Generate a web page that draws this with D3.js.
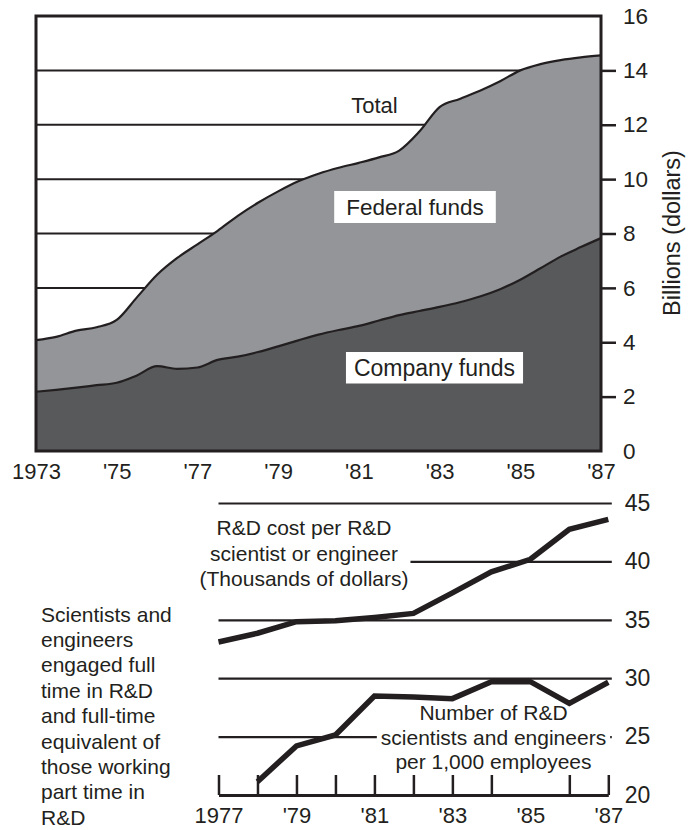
<!DOCTYPE html>
<html>
<head>
<meta charset="utf-8">
<script src="https://cdn.jsdelivr.net/npm/d3@7"></script>
<style>
  body { margin: 0; background: #fff; }
  text { font-family: "Liberation Sans", Arial, Helvetica, sans-serif; fill: #231f20; }
</style>
</head>
<body>
<svg id="chart" width="695" height="830"></svg>
<script>
// ---- Funding panel: R&D spending by source, billions of dollars (semiannual readings)
const fundYears = [1973, 1973.5, 1974, 1974.5, 1975, 1975.5, 1976, 1976.5, 1977, 1977.5,
  1978, 1978.5, 1979, 1979.5, 1980, 1980.5, 1981, 1981.5, 1982, 1982.5,
  1983, 1983.5, 1984, 1984.5, 1985, 1985.5, 1986, 1986.5, 1987];
const totalFunds = [4.08, 4.2, 4.43, 4.55, 4.82, 5.65, 6.48, 7.1, 7.6, 8.1,
  8.65, 9.13, 9.55, 9.92, 10.2, 10.42, 10.6, 10.8, 11.05, 11.75,
  12.65, 12.95, 13.25, 13.6, 14.0, 14.23, 14.38, 14.48, 14.55];
const companyFunds = [2.18, 2.25, 2.33, 2.42, 2.51, 2.78, 3.12, 3.02, 3.07, 3.35,
  3.47, 3.64, 3.85, 4.07, 4.28, 4.45, 4.6, 4.8, 5.0, 5.15,
  5.3, 5.47, 5.68, 5.95, 6.3, 6.72, 7.15, 7.5, 7.83];
const fundTicks = [0, 2, 4, 6, 8, 10, 12, 14, 16];
const fundGrid = [2, 4, 6, 8, 10, 12, 14];
const fundYearLabels = [1973, 1975, 1977, 1979, 1981, 1983, 1985, 1987];

// ---- Personnel panel
const staffYears = [1977, 1978, 1979, 1980, 1981, 1982, 1983, 1984, 1985, 1986, 1987];
const costPerScientist = [33.1, 33.85, 34.84, 34.92, 35.2, 35.55, 37.3, 39.1, 40.18, 42.75, 43.6];
const densityYears = [1978, 1979, 1980, 1981, 1982, 1983, 1984, 1985, 1986, 1987];
const scientistsPer1000 = [21.14, 24.2, 25.14, 28.48, 28.4, 28.25, 29.7, 29.7, 27.85, 29.65];
const staffTicks = [20, 25, 30, 35, 40, 45];
const staffGrid = [25, 30, 35, 40, 45];
const staffTickMarks = [1977, 1978, 1979, 1980, 1981, 1982, 1983, 1984, 1986, 1987];
const staffYearLabels = [1977, 1979, 1981, 1983, 1985, 1987];

const sideNote = ["Scientists and", "engineers", "engaged full", "time in R&D",
  "and full-time", "equivalent of", "those working", "part time in", "R&D"];
const costNote = ["R&D cost per R&D", "scientist or engineer", "(Thousands of dollars)"];
const densityNote = ["Number of R&D", "scientists and engineers", "per 1,000 employees"];

const INK = "#231f20";
const svg = d3.select("#chart");
const yearFmt = (first) => d => d === first ? String(d) : "'" + String(d).slice(2);

// ================= Funding panel =================
const fx = d3.scaleLinear().domain([1973, 1987]).range([36, 601]);
const fy = d3.scaleLinear().domain([0, 16]).range([451, 16]);
const fund = fundYears.map((y, i) => ({ year: y, total: totalFunds[i], company: companyFunds[i] }));

const fundPanel = svg.append("g");

// horizontal rules
fundPanel.selectAll("line.grid").data(fundGrid).join("line")
  .attr("x1", fx(1973)).attr("x2", fx(1987))
  .attr("y1", d => fy(d)).attr("y2", d => fy(d))
  .attr("stroke", INK).attr("stroke-width", 2);

const curve = d3.curveMonotoneX;
fundPanel.append("path").datum(fund)
  .attr("fill", "#939598")
  .attr("d", d3.area().curve(curve).x(d => fx(d.year)).y0(fy(0)).y1(d => fy(d.total)));
fundPanel.append("path").datum(fund)
  .attr("fill", "#58595b")
  .attr("d", d3.area().curve(curve).x(d => fx(d.year)).y0(fy(0)).y1(d => fy(d.company)));
fundPanel.append("path").datum(fund)
  .attr("fill", "none").attr("stroke", INK).attr("stroke-width", 2.2)
  .attr("d", d3.line().curve(curve).x(d => fx(d.year)).y(d => fy(d.total)));
fundPanel.append("path").datum(fund)
  .attr("fill", "none").attr("stroke", INK).attr("stroke-width", 2.2)
  .attr("d", d3.line().curve(curve).x(d => fx(d.year)).y(d => fy(d.company)));

// frame
fundPanel.append("rect")
  .attr("x", fx(1973)).attr("y", fy(16))
  .attr("width", fx(1987) - fx(1973)).attr("height", fy(0) - fy(16))
  .attr("fill", "none").attr("stroke", INK).attr("stroke-width", 3);

// right value axis
const fAxis = fundPanel.append("g").attr("transform", `translate(${fx(1987)},0)`)
  .call(d3.axisRight(fy).tickValues(fundTicks).tickSize(15).tickPadding(7).tickFormat(d3.format("d")));
fAxis.select(".domain").remove();
fAxis.selectAll("line").attr("stroke", INK).attr("stroke-width", 2.5);
fAxis.selectAll(".tick").filter(d => d === 0 || d === 16).select("line").remove();
fAxis.selectAll("text").attr("font-size", 22.5).attr("fill", INK);

// year labels
const fxAxis = fundPanel.append("g").attr("transform", `translate(0,${fy(0) + 12})`)
  .call(d3.axisBottom(fx).tickValues(fundYearLabels).tickSize(0).tickPadding(0).tickFormat(yearFmt(1973)));
fxAxis.select(".domain").remove();
fxAxis.selectAll("text").attr("font-size", 22).attr("fill", INK).attr("dy", "0.72em");

fundPanel.append("text")
  .attr("transform", `translate(679.5,233) rotate(-90)`)
  .attr("text-anchor", "middle").attr("font-size", 23.5)
  .text("Billions (dollars)");

// in-chart labels
fundPanel.append("text").attr("x", 374.5).attr("y", 112.5).attr("text-anchor", "middle")
  .attr("font-size", 22).text("Total");

function boxedLabel(g, cx, baseline, txt, size, padX, boxTop, boxBottom) {
  const t = g.append("text").attr("x", cx).attr("y", baseline).attr("text-anchor", "middle")
    .attr("font-size", size).text(txt);
  const w = t.node().getComputedTextLength();
  g.insert("rect", () => t.node())
    .attr("x", cx - w / 2 - padX).attr("y", boxTop)
    .attr("width", w + 2 * padX).attr("height", boxBottom - boxTop)
    .attr("fill", "#fff");
}
boxedLabel(fundPanel, 415, 215, "Federal funds", 22.5, 12, 191, 223);
boxedLabel(fundPanel, 434.5, 376, "Company funds", 23, 8, 352, 383.5);

// ================= Personnel panel =================
const sx = d3.scaleLinear().domain([1977, 1987]).range([218.5, 608.3]);
const sy = d3.scaleLinear().domain([20, 45]).range([795, 503]);
const staffPanel = svg.append("g");

// horizontal rules, running a little past the last year
const gridAxis = staffPanel.append("g").attr("transform", `translate(${sx(1987) + 3.5},0)`)
  .call(d3.axisRight(sy).tickValues(staffGrid).tickSize(-(sx(1987) + 3.5 - sx(1977))).tickFormat(""));
gridAxis.select(".domain").remove();
gridAxis.selectAll("line").attr("stroke", INK).attr("stroke-width", 2.2);

// value labels
const sAxis = staffPanel.append("g").attr("transform", `translate(${sx(1987) + 3.5},0)`)
  .call(d3.axisRight(sy).tickValues(staffTicks).tickSize(0).tickPadding(13).tickFormat(d3.format("d")));
sAxis.select(".domain").remove();
sAxis.selectAll("text").attr("font-size", 23).attr("fill", INK);

// label panels on white
function noteBlock(g, cx, firstBaseline, step, lines, size, pad) {
  const grp = g.append("g");
  lines.forEach((s, i) => grp.append("text").attr("x", cx).attr("y", firstBaseline + i * step)
    .attr("text-anchor", "middle").attr("font-size", size).text(s));
  const bb = grp.node().getBBox();
  grp.insert("rect", ":first-child")
    .attr("x", bb.x - pad[0]).attr("y", bb.y - pad[1])
    .attr("width", bb.width + 2 * pad[0]).attr("height", bb.height + 2 * pad[1])
    .attr("fill", "#fff");
  return grp;
}
noteBlock(staffPanel, 304, 535, 25.5, costNote, 21, [2, 3]);
noteBlock(staffPanel, 493.5, 720, 24.5, densityNote, 21, [4, 1]);

// bottom axis with upward ticks
const sxTicks = staffPanel.append("g").attr("transform", `translate(0,${sy(20)})`)
  .call(d3.axisBottom(sx).tickValues(staffTickMarks).tickSizeInner(-20).tickSizeOuter(0).tickFormat(""));
sxTicks.select(".domain").attr("stroke", INK).attr("stroke-width", 3);
sxTicks.selectAll("line").attr("stroke", INK).attr("stroke-width", 2.5);

const sxLabels = staffPanel.append("g").attr("transform", `translate(0,${sy(20) + 12})`)
  .call(d3.axisBottom(sx).tickValues(staffYearLabels).tickSize(0).tickPadding(0).tickFormat(yearFmt(1977)));
sxLabels.select(".domain").remove();
sxLabels.selectAll("text").attr("font-size", 22).attr("fill", INK).attr("dy", "0.72em");

// series lines
staffPanel.append("path").datum(staffYears.map((y, i) => [y, costPerScientist[i]]))
  .attr("fill", "none").attr("stroke", INK).attr("stroke-width", 5.5)
  .attr("d", d3.line().x(d => sx(d[0])).y(d => sy(d[1])));
staffPanel.append("path").datum(densityYears.map((y, i) => [y, scientistsPer1000[i]]))
  .attr("fill", "none").attr("stroke", INK).attr("stroke-width", 5.5)
  .attr("d", d3.line().x(d => sx(d[0])).y(d => sy(d[1])));

// side caption
staffPanel.append("g").selectAll("text").data(sideNote).join("text")
  .attr("x", 41).attr("y", (d, i) => 621.5 + i * 25.4)
  .attr("font-size", 21).text(d => d);
</script>
</body>
</html>
